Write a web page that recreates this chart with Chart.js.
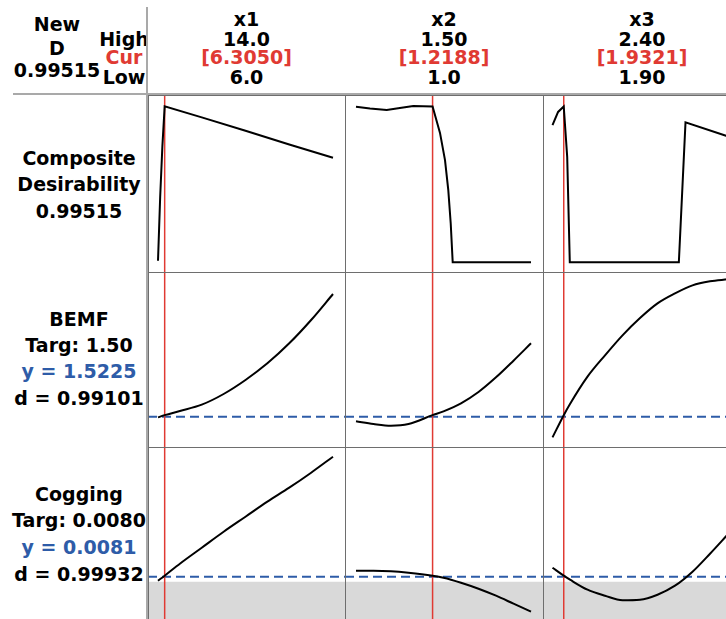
<!DOCTYPE html>
<html>
<head>
<meta charset="utf-8">
<script src="https://cdn.jsdelivr.net/npm/chart.js@4.4.1/dist/chart.umd.min.js"></script>
<style>
html, body { margin: 0; padding: 0; background: #fff; overflow: hidden; width: 726px; height: 619px; }
#wrap { position: relative; width: 726px; height: 619px; font-family: 'DejaVu Sans', Verdana, sans-serif; font-weight: bold; font-size: 19px; }
.lbl { position: absolute; width: 300px; text-align: center; line-height: 20px; white-space: nowrap; }
.rule { position: absolute; z-index: 5; }
canvas { position: absolute; }
</style>
</head>
<body>
<div id="wrap"></div>
<script>
// ===== Factores =====
const factorNames = ['x1', 'x2', 'x3'];
const highLabels = ['14.0', '1.50', '2.40'];
const curLabels = ['[6.3050]', '[1.2188]', '[1.9321]'];
const lowLabels = ['6.0', '1.0', '1.90'];
const lowVals = [6.0, 1.0, 1.9];
const highVals = [14.0, 1.5, 2.4];
const curVals = [6.305, 1.2188, 1.9321];

// ===== Textos de la columna izquierda =====
const headLeft = ['New', 'D', '0.99515'];
const headRight = ['High', 'Cur', 'Low'];
const compLabels = ['Composite', 'Desirability', '0.99515'];
const bemfLabels = ['BEMF', 'Targ: 1.50', 'y = 1.5225', 'd = 0.99101'];
const cogLabels = ['Cogging', 'Targ: 0.0080', 'y = 0.0081', 'd = 0.99932'];

// ===== Deseabilidad compuesta =====
const desX1 = [6.0, 6.1, 6.2, 6.305, 8, 10, 12, 14.0];
const desY1 = [0.01, 0.42, 0.74, 0.99515, 0.925, 0.840, 0.752, 0.667];
const desX2 = [1.0, 1.04, 1.0877, 1.13, 1.1637, 1.2188, 1.24, 1.2543, 1.2637, 1.2706, 1.2763, 1.5];
const desY2 = [0.993, 0.982, 0.973, 0.986, 0.998, 0.99515, 0.826, 0.652, 0.461, 0.249, 0, 0];
const desX3 = [1.9, 1.916, 1.9321, 1.942, 1.9494, 2.261, 2.28, 2.40];
const desY3 = [0.875, 0.96, 0.99515, 0.673, 0, 0, 0.893, 0.805];

// ===== BEMF =====
const bemfX1 = [6.0, 6.305, 7, 8, 9, 10, 11, 12, 13, 14];
const bemfY1 = [1.49, 1.5225, 1.585, 1.68, 1.84, 2.05, 2.30, 2.60, 2.95, 3.34];
const bemfX2 = [1.0, 1.05, 1.1, 1.15, 1.2188, 1.25, 1.3, 1.35, 1.4, 1.45, 1.5];
const bemfY2 = [1.43, 1.39, 1.365, 1.39, 1.5225, 1.58, 1.70, 1.87, 2.09, 2.34, 2.60];
const bemfX3 = [1.9, 1.9321, 1.95, 2.0, 2.05, 2.1, 2.15, 2.2, 2.25, 2.3, 2.35, 2.4];
const bemfY3 = [1.19, 1.5225, 1.69, 2.1, 2.42, 2.72, 2.98, 3.2, 3.35, 3.47, 3.53, 3.56];
const bemfTarget = 1.50;

// ===== Cogging =====
const cogX1 = [6.0, 6.305, 7, 8, 9, 10, 11, 12, 13, 14];
const cogY1 = [0.0076, 0.0081, 0.0093, 0.0109, 0.0125, 0.0140, 0.0155, 0.0169, 0.0184, 0.0200];
const cogX2 = [1.0, 1.05, 1.1, 1.15, 1.2188, 1.25, 1.3, 1.35, 1.4, 1.45, 1.5];
const cogY2 = [0.0086, 0.0086, 0.00855, 0.0084, 0.0081, 0.0079, 0.0074, 0.0068, 0.0061, 0.0053, 0.0045];
const cogX3 = [1.9, 1.9321, 1.95, 2.0, 2.05, 2.1, 2.15, 2.2, 2.25, 2.3, 2.35, 2.4];
const cogY3 = [0.0089, 0.0081, 0.0077, 0.0067, 0.0061, 0.00565, 0.0057, 0.0062, 0.0071, 0.0085, 0.0103, 0.0122];
const cogTarget = 0.0080;
const cogShadeBelow = 0.0075;

// Rangos de los ejes Y por fila
const desRange = [-0.062, 1.068];
const bemfRange = [1.045, 3.67];
const cogRange = [0.00347, 0.02097];

// ===== Geometría de la rejilla =====
const colLeft = [148, 345, 543];
const colW = [197, 198, 198];
const rowTop = [95, 272, 447];
const rowH = [177, 175, 175];
const padLeft = [10, 11, 9.5];
const dataW = 175;

const RED = '#e03a33';
const BLUE = '#2e5ca8';

const wrap = document.getElementById('wrap');

function addText(txt, cx, cy, color) {
    const d = document.createElement('div');
    d.className = 'lbl';
    d.textContent = txt;
    d.style.left = (cx - 150) + 'px';
    d.style.top = (cy - 10) + 'px';
    d.style.color = color || '#000';
    wrap.appendChild(d);
}

function addRule(x, y, w, h, color) {
    const d = document.createElement('div');
    d.className = 'rule';
    d.style.left = x + 'px';
    d.style.top = y + 'px';
    d.style.width = w + 'px';
    d.style.height = h + 'px';
    d.style.background = color;
    wrap.appendChild(d);
}

// ===== Encabezado =====
headLeft.forEach((t, i) => addText(t, 57, [24, 48, 70][i]));
headRight.forEach((t, i) => addText(t, 124, [38.5, 57, 76.5][i], i === 1 ? RED : '#000'));
factorNames.forEach((n, c) => {
    const cx = colLeft[c] + colW[c] / 2;
    addText(n, cx, 19);
    addText(highLabels[c], cx, 38.5);
    addText(curLabels[c], cx, 57, RED);
    addText(lowLabels[c], cx, 76.5);
});

// ===== Etiquetas de respuestas =====
compLabels.forEach((t, i) => addText(t, 79, 157.5 + i * 26.5));
bemfLabels.forEach((t, i) => addText(t, 79, 319 + i * 26.2, i === 2 ? BLUE : '#000'));
cogLabels.forEach((t, i) => addText(t, 79, 493.5 + i * 26.7, i === 2 ? BLUE : '#000'));

// ===== Paneles =====
const curves = [
    [[desX1, desY1], [desX2, desY2], [desX3, desY3]],
    [[bemfX1, bemfY1], [bemfX2, bemfY2], [bemfX3, bemfY3]],
    [[cogX1, cogY1], [cogX2, cogY2], [cogX3, cogY3]]
];
const rowRanges = [desRange, bemfRange, cogRange];
const rowTargets = [null, bemfTarget, cogTarget];
const rowShade = [null, null, cogShadeBelow];

for (let r = 0; r < 3; r++) {
    for (let c = 0; c < 3; c++) {
        const cv = document.createElement('canvas');
        cv.width = colW[c];
        cv.height = rowH[r];
        cv.style.left = colLeft[c] + 'px';
        cv.style.top = rowTop[r] + 'px';
        wrap.appendChild(cv);

        const span = highVals[c] - lowVals[c];
        const xMin = lowVals[c] - padLeft[c] / dataW * span;
        const xMax = xMin + colW[c] / dataW * span;
        const [yMin, yMax] = rowRanges[r];
        const [xs, ys] = curves[r][c];

        // la deseabilidad va en tramos rectos, las respuestas suavizadas
        const curve = {
            data: xs.map((x, i) => ({ x: x, y: ys[i] })),
            showLine: true,
            borderColor: '#000',
            borderWidth: 2,
            order: 1
        };
        if (r > 0) curve.cubicInterpolationMode = 'monotone';

        const datasets = [curve, {
            data: [{ x: curVals[c], y: yMin }, { x: curVals[c], y: yMax }],
            showLine: true,
            borderColor: RED,
            borderWidth: 1.5,
            order: 2
        }];
        if (rowTargets[r] !== null) {
            datasets.push({
                data: [{ x: xMin, y: rowTargets[r] }, { x: xMax, y: rowTargets[r] }],
                showLine: true,
                borderColor: BLUE,
                borderWidth: 2,
                borderDash: [9, 5],
                order: 3
            });
        }
        if (rowShade[r] !== null) {
            datasets.push({
                data: [{ x: xMin, y: rowShade[r] }, { x: xMax, y: rowShade[r] }],
                showLine: true,
                borderWidth: 0,
                borderColor: 'rgba(0,0,0,0)',
                backgroundColor: '#d9d9d9',
                fill: 'start',
                order: 4
            });
        }

        new Chart(cv.getContext('2d'), {
            type: 'scatter',
            data: { datasets: datasets },
            options: {
                responsive: false,
                animation: false,
                devicePixelRatio: 1,
                layout: { padding: 0 },
                elements: { point: { radius: 0 } },
                plugins: { legend: { display: false }, tooltip: { enabled: false } },
                scales: {
                    x: { type: 'linear', min: xMin, max: xMax, display: false },
                    y: { type: 'linear', min: yMin, max: yMax, display: false }
                }
            }
        });
    }
}

// ===== Líneas de la rejilla =====
addRule(13, 93, 713, 2, '#a9a9a9');
addRule(146, 7, 2, 612, '#a9a9a9');
addRule(148, 95, 578, 1, '#6e6e6e');
addRule(148, 95, 1, 524, '#6e6e6e');
addRule(148, 272, 578, 1, '#6e6e6e');
addRule(148, 447, 578, 1, '#6e6e6e');
addRule(345, 95, 1, 524, '#6e6e6e');
addRule(543, 95, 1, 524, '#6e6e6e');
</script>
</body>
</html>
